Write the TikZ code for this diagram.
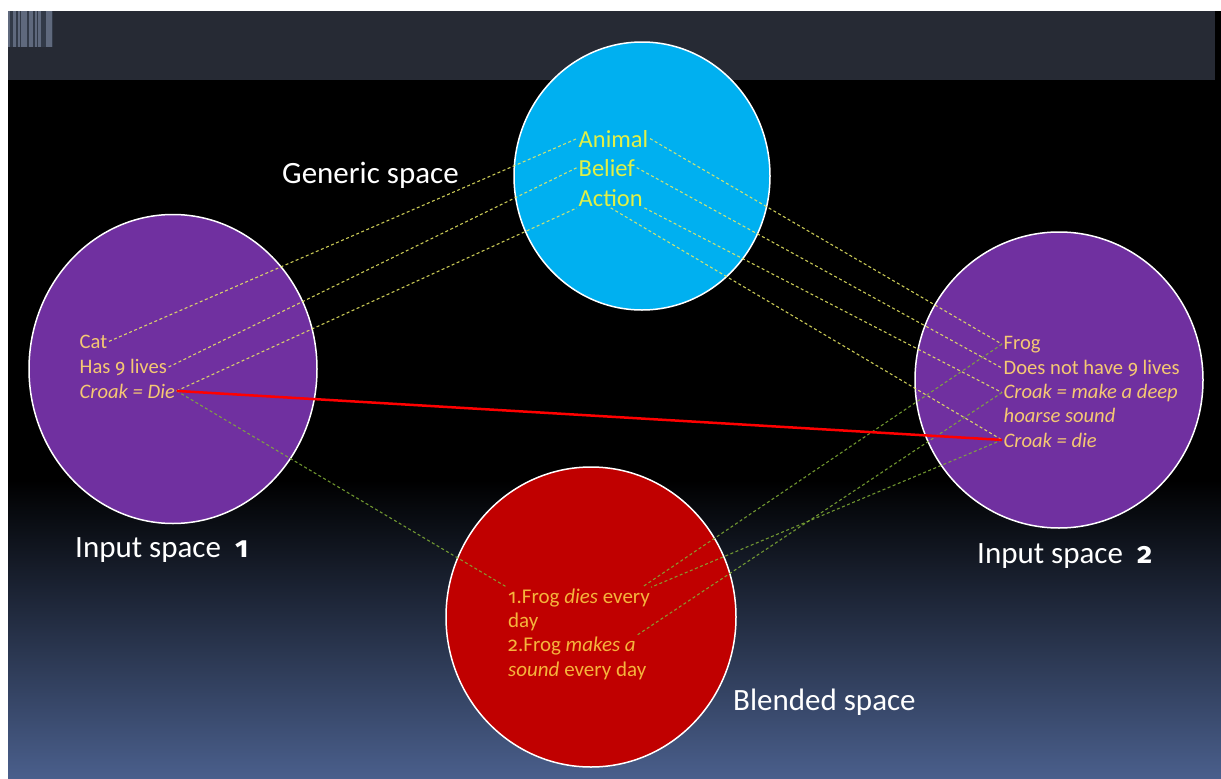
\documentclass[tikz,border=0pt]{standalone}
\usepackage{fontspec}
\setmainfont{Carlito}
\newfontfamily\osffont{Fira Sans}[Numbers=OldStyle, Scale=0.95]
\newcommand{\osn}[1]{{\osffont #1}}
\usetikzlibrary{shapes.geometric}
\definecolor{bandgray}{RGB}{38,42,52}
\definecolor{genblue}{RGB}{0,176,240}
\definecolor{inpurple}{RGB}{112,48,160}
\definecolor{blendred}{RGB}{192,0,0}
\definecolor{gentext}{RGB}{225,240,70}
\definecolor{intext}{RGB}{245,200,115}
\definecolor{bltext}{RGB}{245,180,60}
\definecolor{genline}{RGB}{235,235,100}
\definecolor{blline}{RGB}{130,175,55}
\definecolor{bottomblue}{RGB}{74,95,140}
\definecolor{stripebase}{RGB}{50,58,72}
\definecolor{stripe}{RGB}{95,105,125}
\begin{document}
\begin{tikzpicture}[x=1pt,y=-1pt,
 space/.style={ellipse, draw=white, line width=1.5pt, inner sep=0pt},
 spacelabel/.style={text=white, font=\fontsize{31}{35}\selectfont, inner sep=0pt, anchor=base west},
 gtext/.style={text=gentext, font=\fontsize{24.5}{28}\selectfont, anchor=base west, inner sep=1.5pt},
 itext/.style={text=intext, font=\fontsize{20.6}{24}\selectfont, anchor=base west, inner sep=1.5pt},
 btext/.style={text=bltext, font=\fontsize{21}{24}\selectfont, anchor=base west, inner sep=1pt},
 mapline/.style={draw=genline, dash pattern=on 3pt off 2.5pt, line width=1.1pt, opacity=0.85},
 blendline/.style={draw=blline, dash pattern=on 3pt off 2.5pt, line width=1.1pt, opacity=0.85},
 clash/.style={draw=red, line width=2.5pt}
]
\useasboundingbox (0,0) rectangle (1221,779);
% background
\fill[white] (0,0) rectangle (1221,779);
\fill[black] (8,11) rectangle (1221,779);
\shade[top color=black, bottom color=bottomblue] (8,480) rectangle (1221,779);
\fill[bandgray] (8,11) rectangle (1215,80);
\fill[stripebase] (8,11) rectangle (53,47);
\foreach \a/\b in {8/9.5,13/16,18/20,21/27,29/33,35/37,38/41,46/52}{
  \fill[stripe] (\a,11) rectangle (\b,47);
}
% spaces
\node[space, fill=genblue, minimum width=256, minimum height=268] (generic) at (642,176) {};
\node[space, fill=inpurple, minimum width=288, minimum height=309] (input1) at (173,369) {};
\node[space, fill=inpurple, minimum width=288, minimum height=296] (input2) at (1059,380) {};
\node[space, fill=blendred, minimum width=290, minimum height=300] (blend) at (591,617) {};
% texts
\node[gtext] (animal) at (577,147) {Animal};
\node[gtext] (belief) at (577,176) {Belief};
\node[gtext] (action) at (577,206) {Action};
\node[itext] (cat) at (78,348) {Cat};
\node[itext] (lives) at (78,373) {Has \osn{9} lives};
\node[itext] (croak1) at (78,398) {\itshape Croak = Die};
\node[itext] (frog) at (1002,349) {Frog};
\node[itext] (notlives) at (1002,374) {Does not have \osn{9} lives};
\node[itext] (croakmake) at (1002,398) {\itshape Croak = make a deep};
\node[itext] (hoarse) at (1002,422) {\itshape hoarse sound};
\node[itext] (croakdie) at (1002,447) {\itshape Croak = die};
\node[btext] (b1) at (507,603) {\osn{1}.Frog \textit{dies} every};
\node[btext] (b2) at (507,627) {day};
\node[btext] (b3) at (507,651) {\osn{2}.Frog \textit{makes a}};
\node[btext] (b4) at (507,676) {\textit{sound} every day};
% labels
\node[spacelabel] (glabel) at (282,183) {Generic space};
\node[spacelabel] (in1label) at (75,557) {Input space~~\osn{\bfseries 1}};
\node[spacelabel] (in2label) at (977,563) {Input space~~\osn{\bfseries 2}};
\node[spacelabel] (blabel) at (733,710) {Blended space};
% connectors
\draw[mapline] (cat.east) -- (animal.west);
\draw[mapline] (lives.east) -- (belief.west);
\draw[mapline] (croak1.east) -- (action.south west);
\draw[mapline] (animal.east) -- (frog.west);
\draw[mapline] (belief.east) -- (notlives.west);
\draw[mapline] (action.south east) -- (croakmake.west);
\draw[mapline] (action.south) -- (croakdie.west);
\draw[blendline] (croak1.east) -- (b1.north west);
\draw[blendline] (frog.west) -- ([xshift=-9pt]b1.north east);
\draw[blendline] (croakdie.west) -- (b1.north east);
\draw[blendline] (croakmake.west) -- (b3.north east);
\draw[clash] (croak1.east) -- (croakdie.west);
\end{tikzpicture}
\end{document}
